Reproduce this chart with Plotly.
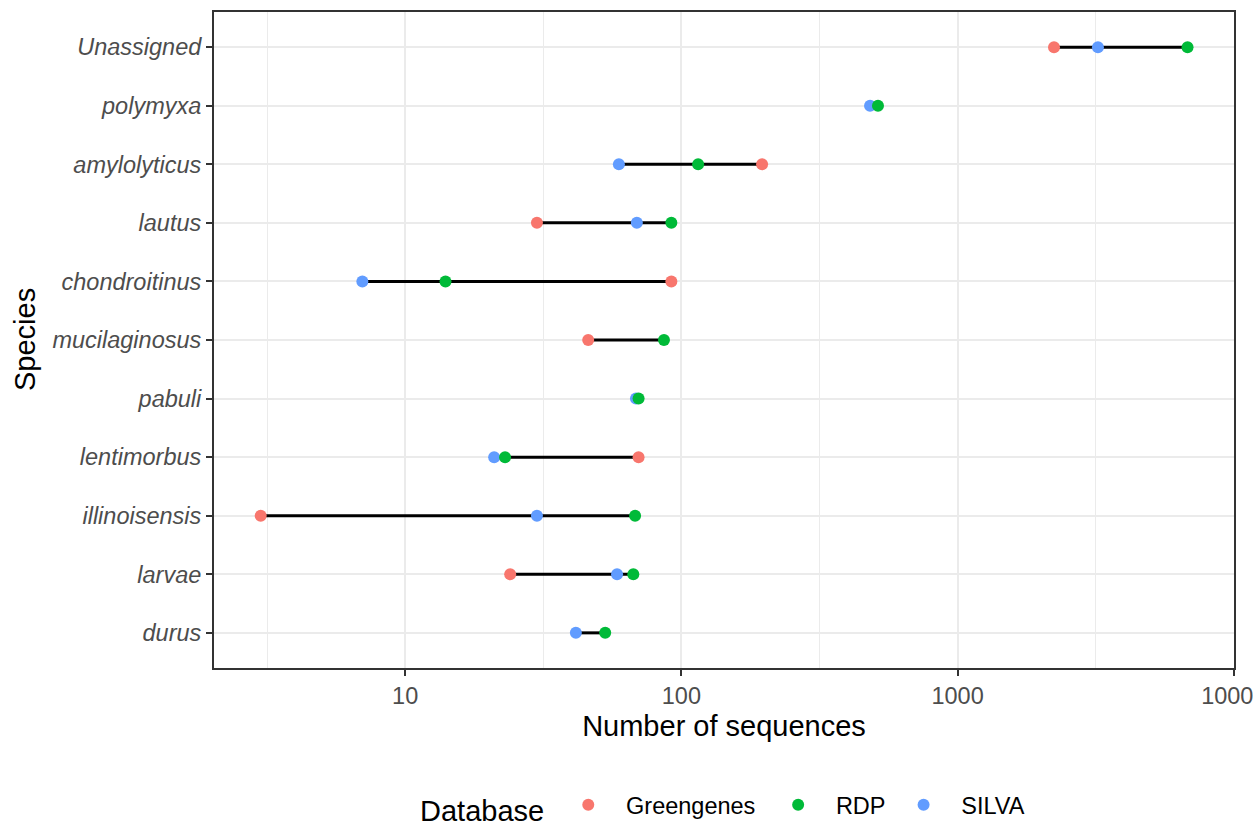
import plotly.graph_objects as go

species = ["durus", "larvae", "illinoisensis", "lentimorbus", "pabuli",
           "mucilaginosus", "chondroitinus", "lautus", "amylolyticus",
           "polymyxa", "Unassigned"]
greengenes = [None, 24, 3, 70, None, 46, 92, 30, 196, None, 2234]
rdp = [53, 67, 68, 23, 70, 86.5, 14, 92, 115, 515, 6800]
silva = [41.5, 58.5, 30, 21, 68.5, None, 7, 69, 59.4, 482, 3222]

tick_vals = [10, 100, 1000, 10000]
tick_text = ["10", "100", "1000", "10000"]
minor_vals = [10 ** 0.5, 10 ** 1.5, 10 ** 2.5, 10 ** 3.5]

colors = {"Greengenes": "#F8766D", "RDP": "#00BA38", "SILVA": "#619CFF"}
FONT = "Liberation Sans, Arial, sans-serif"
NB = "\u00a0"
lead = NB * 2 + "\u2009"
trail = {"Greengenes": NB * 2 + "\u2009", "RDP": NB * 2, "SILVA": ""}

# segments from min to max per species
seg_x, seg_y = [], []
for i, sp in enumerate(species):
    vals = [v for v in (greengenes[i], rdp[i], silva[i]) if v is not None]
    seg_x += [min(vals), max(vals), None]
    seg_y += [sp, sp, None]

fig = go.Figure()
fig.add_trace(go.Scatter(x=seg_x, y=seg_y, mode="lines",
                         line=dict(color="black", width=3),
                         showlegend=False, hoverinfo="skip"))

def pts(vals):
    xs, ys = [], []
    for sp, v in zip(species, vals):
        if v is not None:
            xs.append(v)
            ys.append(sp)
    return xs, ys

for name, vals, rank in [("Greengenes", greengenes, 1), ("SILVA", silva, 3), ("RDP", rdp, 2)]:
    xs, ys = pts(vals)
    fig.add_trace(go.Scatter(x=xs, y=ys, mode="markers", name=lead + name + trail[name],
                             legendrank=rank,
                             marker=dict(color=colors[name], size=12, line=dict(width=0))))

W, H = 1253, 827
L, R, T, B = 214, 19, 12, 159
top_px, bot_px = T, H - B
plot_w = W - L - R

fig.add_annotation(text="Species", xref="paper", yref="paper",
                   x=(25 - L) / plot_w, y=0.5, textangle=-90,
                   xanchor="center", yanchor="middle", showarrow=False,
                   font=dict(size=29, color="black", family=FONT))

fig.update_layout(
    width=W, height=H,
    margin=dict(l=L, r=R, t=T, b=B, autoexpand=False),
    plot_bgcolor="white", paper_bgcolor="white",
    font=dict(family=FONT, color="black"),
    showlegend=True,
    legend=dict(orientation="h", x=0.5, xanchor="center",
                y=(bot_px - 807) / (bot_px - top_px), yanchor="middle",
                title=dict(text="Database" + NB * 2, font=dict(size=29, color="black"), side="left"),
                font=dict(size=23.5, color="black"),
                itemsizing="constant", bgcolor="rgba(0,0,0,0)"),
    xaxis=dict(type="log", range=[0.308, 4.0007],
               tickmode="array", tickvals=tick_vals, ticktext=tick_text,
               tickfont=dict(size=23.5, color="#4D4D4D", family=FONT),
               ticklabeloverflow="allow",
               ticks="outside", ticklen=6, tickwidth=2, tickcolor="#333333",
               showgrid=True, gridcolor="#EBEBEB", gridwidth=2,
               minor=dict(tickvals=minor_vals, showgrid=True, gridcolor="#EBEBEB",
                          gridwidth=1, ticks=""),
               showline=True, linecolor="#333333", linewidth=2, mirror=True,
               zeroline=False,
               title=dict(text="Number of sequences", font=dict(size=29, color="black"),
                          standoff=7)),
    yaxis=dict(type="category", categoryorder="array", categoryarray=species,
               range=[-0.6, 10.6],
               tickfont=dict(size=23.5, color="#4D4D4D", family=FONT, style="italic"),
               ticks="outside", ticklen=6, tickwidth=2, tickcolor="#333333",
               showgrid=True, gridcolor="#EBEBEB", gridwidth=2,
               showline=True, linecolor="#333333", linewidth=2, mirror=True,
               zeroline=False),
)

fig.write_html("out.html")
